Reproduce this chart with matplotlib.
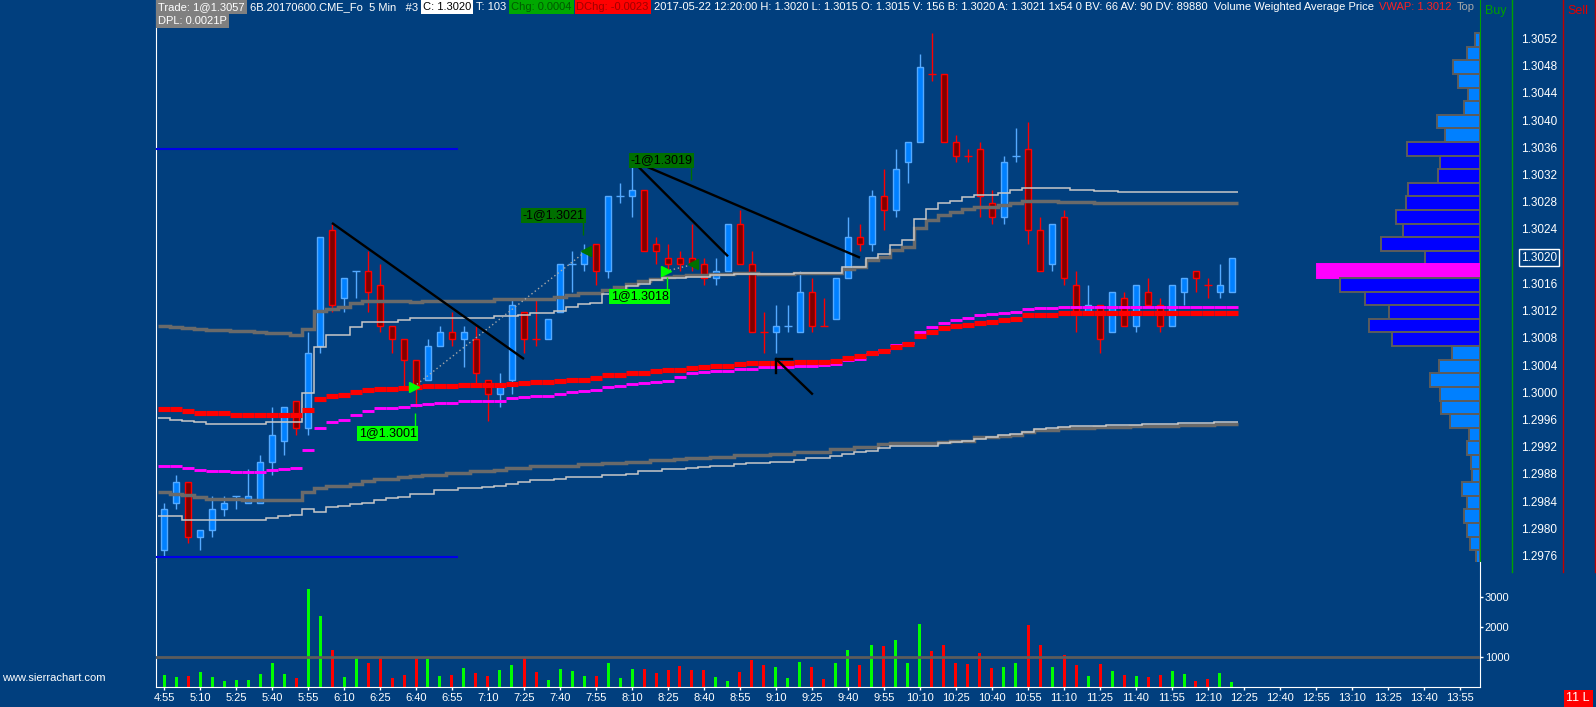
import numpy as np
import matplotlib
matplotlib.use("Agg")
import matplotlib.pyplot as plt
from matplotlib.lines import Line2D
import matplotlib.transforms as mtransforms

plt.rcParams['font.family'] = ['Liberation Sans', 'DejaVu Sans']

# ---- 5 min bars, 6B (British pound futures), 4:55 .. 12:20 ----
OPEN = [1.2977, 1.2984, 1.2987, 1.2979, 1.2980, 1.2983, 1.2985, 1.2984, 1.2984, 1.2990,
        1.2993, 1.2999, 1.2995, 1.3007, 1.3024, 1.3014, 1.3018, 1.3018, 1.3016, 1.3010,
        1.3008, 1.3005, 1.3002, 1.3007, 1.3009, 1.3008, 1.3008, 1.3002, 1.3000, 1.3002,
        1.3012, 1.3008, 1.3008, 1.3012, 1.3019, 1.3019, 1.3022, 1.3018, 1.3029, 1.3029,
        1.3030, 1.3022, 1.3020, 1.3020, 1.3020, 1.3019, 1.3017, 1.3018, 1.3025, 1.3019,
        1.3009, 1.3009, 1.3010, 1.3009, 1.3015, 1.3010, 1.3011, 1.3017, 1.3023, 1.3022,
        1.3029, 1.3027, 1.3034, 1.3037, 1.3047, 1.3047, 1.3037, 1.3035, 1.3036, 1.3028,
        1.3026, 1.3035, 1.3036, 1.3024, 1.3019, 1.3026, 1.3016, 1.3012, 1.3013, 1.3009,
        1.3014, 1.3010, 1.3015, 1.3013, 1.3010, 1.3015, 1.3018, 1.3016, 1.3015, 1.3015]
HIGH = [1.2984, 1.2988, 1.2987, 1.2980, 1.2985, 1.2985, 1.2985, 1.2989, 1.2991, 1.2998,
        1.2998, 1.2999, 1.3009, 1.3023, 1.3025, 1.3017, 1.3018, 1.3021, 1.3019, 1.3010,
        1.3008, 1.3005, 1.3008, 1.3010, 1.3012, 1.3010, 1.3010, 1.3002, 1.3003, 1.3014,
        1.3012, 1.3014, 1.3011, 1.3019, 1.3021, 1.3022, 1.3022, 1.3029, 1.3031, 1.3034,
        1.3030, 1.3023, 1.3022, 1.3021, 1.3025, 1.3020, 1.3020, 1.3025, 1.3027, 1.3021,
        1.3012, 1.3013, 1.3013, 1.3018, 1.3017, 1.3014, 1.3017, 1.3026, 1.3025, 1.3030,
        1.3033, 1.3036, 1.3037, 1.3050, 1.3053, 1.3047, 1.3038, 1.3036, 1.3037, 1.3030,
        1.3035, 1.3039, 1.3040, 1.3026, 1.3025, 1.3027, 1.3018, 1.3016, 1.3013, 1.3015,
        1.3015, 1.3016, 1.3017, 1.3014, 1.3016, 1.3017, 1.3018, 1.3017, 1.3019, 1.3020]
LOW = [1.2976, 1.2983, 1.2978, 1.2977, 1.2979, 1.2982, 1.2983, 1.2984, 1.2984, 1.2988,
       1.2991, 1.2994, 1.2994, 1.3006, 1.3012, 1.3012, 1.3014, 1.3012, 1.3009, 1.3006,
       1.3001, 1.2998, 1.3002, 1.3007, 1.3007, 1.3004, 1.3001, 1.2996, 1.2998, 1.3000,
       1.3006, 1.3007, 1.3008, 1.3012, 1.3015, 1.3018, 1.3016, 1.3017, 1.3028, 1.3026,
       1.3021, 1.3019, 1.3018, 1.3018, 1.3018, 1.3016, 1.3016, 1.3018, 1.3019, 1.3009,
       1.3006, 1.3006, 1.3009, 1.3009, 1.3009, 1.3010, 1.3011, 1.3017, 1.3021, 1.3021,
       1.3024, 1.3026, 1.3031, 1.3037, 1.3046, 1.3037, 1.3034, 1.3034, 1.3026, 1.3025,
       1.3025, 1.3034, 1.3022, 1.3018, 1.3018, 1.3016, 1.3009, 1.3012, 1.3006, 1.3009,
       1.3010, 1.3009, 1.3013, 1.3009, 1.3010, 1.3013, 1.3015, 1.3014, 1.3014, 1.3015]
CLOSE = [1.2983, 1.2987, 1.2979, 1.2980, 1.2983, 1.2984, 1.2985, 1.2985, 1.2990, 1.2994,
         1.2998, 1.2995, 1.3006, 1.3023, 1.3013, 1.3017, 1.3018, 1.3015, 1.3010, 1.3008,
         1.3005, 1.3001, 1.3007, 1.3009, 1.3008, 1.3009, 1.3003, 1.3000, 1.3001, 1.3013,
         1.3008, 1.3008, 1.3011, 1.3019, 1.3019, 1.3021, 1.3018, 1.3029, 1.3029, 1.3030,
         1.3021, 1.3021, 1.3019, 1.3019, 1.3019, 1.3017, 1.3018, 1.3025, 1.3019, 1.3009,
         1.3009, 1.3010, 1.3010, 1.3015, 1.3010, 1.3010, 1.3017, 1.3023, 1.3022, 1.3029,
         1.3027, 1.3033, 1.3037, 1.3048, 1.3047, 1.3037, 1.3035, 1.3035, 1.3029, 1.3026,
         1.3034, 1.3035, 1.3024, 1.3018, 1.3025, 1.3017, 1.3012, 1.3013, 1.3008, 1.3015,
         1.3010, 1.3016, 1.3013, 1.3010, 1.3016, 1.3017, 1.3017, 1.3016, 1.3016, 1.3020]
DOJI_DOWN = [31, 50, 55, 64, 67, 87]   # open == close bars drawn as down bars

VOLUME = [402, 337, 370, 500, 337, 207, 239, 239, 435, 793,
          435, 304, 3272, 2359, 1250, 337, 957, 793, 957, 304,
          402, 957, 924, 370, 402, 630, 467, 370, 565, 728,
          957, 500, 239, 598, 533, 370, 370, 793, 304, 598,
          598, 467, 565, 696, 565, 565, 337, 207, 500, 891,
          728, 663, 304, 826, 663, 272, 793, 1217, 728, 1413,
          1380, 1576, 793, 2098, 1185, 1413, 793, 761, 1120, 630,
          663, 793, 2065, 1413, 663, 1054, 728, 370, 761, 533,
          402, 370, 337, 402, 533, 435, 207, 272, 467, 156]

# VWAP study (red) with its bands (gray) and second VWAP (magenta) with bands (white)
VWAP = [1.29977, 1.29977, 1.29974, 1.29972, 1.29971, 1.29971, 1.29969, 1.29969, 1.29968, 1.29968,
        1.29968, 1.29968, 1.29976, 1.29992, 1.29997, 1.29998, 1.30003, 1.30005, 1.30007, 1.30007,
        1.30009, 1.30010, 1.30011, 1.30011, 1.30011, 1.30013, 1.30013, 1.30013, 1.30013, 1.30014,
        1.30016, 1.30017, 1.30017, 1.30018, 1.30020, 1.30020, 1.30023, 1.30027, 1.30027, 1.30030,
        1.30030, 1.30033, 1.30035, 1.30035, 1.30038, 1.30039, 1.30041, 1.30041, 1.30043, 1.30045,
        1.30045, 1.30045, 1.30045, 1.30047, 1.30047, 1.30047, 1.30048, 1.30052, 1.30055, 1.30060,
        1.30063, 1.30069, 1.30073, 1.30085, 1.30091, 1.30097, 1.30100, 1.30101, 1.30104, 1.30106,
        1.30109, 1.30110, 1.30115, 1.30115, 1.30116, 1.30118, 1.30118, 1.30118, 1.30118, 1.30118,
        1.30118, 1.30118, 1.30118, 1.30118, 1.30118, 1.30118, 1.30118, 1.30118, 1.30118, 1.30118]
VWAP2 = [1.29893, 1.29893, 1.29891, 1.29888, 1.29887, 1.29887, 1.29885, 1.29885, 1.29885, 1.29888,
         1.29890, 1.29891, 1.29917, 1.29950, 1.29958, 1.29962, 1.29969, 1.29975, 1.29979, 1.29979,
         1.29981, 1.29983, 1.29985, 1.29987, 1.29987, 1.29989, 1.29989, 1.29989, 1.29989, 1.29993,
         1.29995, 1.29996, 1.29996, 1.30000, 1.30003, 1.30004, 1.30005, 1.30010, 1.30011, 1.30015,
         1.30016, 1.30017, 1.30018, 1.30024, 1.30031, 1.30032, 1.30034, 1.30034, 1.30036, 1.30037,
         1.30039, 1.30039, 1.30039, 1.30041, 1.30041, 1.30042, 1.30044, 1.30049, 1.30051, 1.30058,
         1.30064, 1.30072, 1.30075, 1.30091, 1.30098, 1.30104, 1.30109, 1.30112, 1.30115, 1.30117,
         1.30118, 1.30120, 1.30124, 1.30126, 1.30126, 1.30128, 1.30128, 1.30128, 1.30128, 1.30128,
         1.30128, 1.30128, 1.30128, 1.30128, 1.30128, 1.30128, 1.30128, 1.30128, 1.30128, 1.30128]
BAND_UP = [1.30100, 1.30098, 1.30097, 1.30095, 1.30094, 1.30094, 1.30092, 1.30092, 1.30091, 1.30089,
           1.30089, 1.30087, 1.30095, 1.30121, 1.30125, 1.30128, 1.30133, 1.30137, 1.30137, 1.30137,
           1.30137, 1.30135, 1.30137, 1.30137, 1.30137, 1.30137, 1.30137, 1.30137, 1.30139, 1.30139,
           1.30139, 1.30139, 1.30139, 1.30142, 1.30145, 1.30148, 1.30148, 1.30153, 1.30157, 1.30162,
           1.30166, 1.30168, 1.30171, 1.30173, 1.30175, 1.30175, 1.30176, 1.30176, 1.30177, 1.30177,
           1.30176, 1.30176, 1.30176, 1.30177, 1.30177, 1.30177, 1.30178, 1.30184, 1.30187, 1.30196,
           1.30201, 1.30212, 1.30216, 1.30243, 1.30255, 1.30263, 1.30267, 1.30271, 1.30274, 1.30274,
           1.30277, 1.30280, 1.30283, 1.30283, 1.30284, 1.30282, 1.30282, 1.30282, 1.30281, 1.30281,
           1.30281, 1.30281, 1.30281, 1.30280, 1.30280, 1.30280, 1.30280, 1.30280, 1.30280, 1.30280]
BAND_DN = [1.29855, 1.29853, 1.29851, 1.29848, 1.29845, 1.29845, 1.29845, 1.29844, 1.29844, 1.29844,
           1.29844, 1.29844, 1.29856, 1.29862, 1.29865, 1.29865, 1.29868, 1.29872, 1.29875, 1.29875,
           1.29877, 1.29879, 1.29881, 1.29881, 1.29883, 1.29883, 1.29886, 1.29886, 1.29888, 1.29891,
           1.29891, 1.29893, 1.29893, 1.29894, 1.29894, 1.29896, 1.29896, 1.29898, 1.29898, 1.29900,
           1.29900, 1.29902, 1.29902, 1.29904, 1.29905, 1.29905, 1.29907, 1.29907, 1.29910, 1.29910,
           1.29910, 1.29912, 1.29912, 1.29915, 1.29915, 1.29915, 1.29918, 1.29918, 1.29921, 1.29921,
           1.29926, 1.29928, 1.29928, 1.29927, 1.29927, 1.29929, 1.29931, 1.29931, 1.29936, 1.29936,
           1.29938, 1.29939, 1.29944, 1.29947, 1.29947, 1.29949, 1.29949, 1.29949, 1.29951, 1.29951,
           1.29951, 1.29953, 1.29953, 1.29953, 1.29953, 1.29954, 1.29954, 1.29954, 1.29955, 1.29955]
BAND2_UP = [1.29964, 1.29962, 1.29960, 1.29958, 1.29956, 1.29955, 1.29955, 1.29955, 1.29956, 1.29958,
            1.29958, 1.29958, 1.30001, 1.30069, 1.30086, 1.30086, 1.30098, 1.30106, 1.30106, 1.30106,
            1.30109, 1.30111, 1.30111, 1.30112, 1.30112, 1.30112, 1.30112, 1.30112, 1.30114, 1.30114,
            1.30116, 1.30119, 1.30119, 1.30122, 1.30128, 1.30132, 1.30133, 1.30147, 1.30152, 1.30158,
            1.30162, 1.30167, 1.30170, 1.30170, 1.30172, 1.30172, 1.30175, 1.30175, 1.30176, 1.30176,
            1.30176, 1.30176, 1.30176, 1.30178, 1.30178, 1.30178, 1.30178, 1.30186, 1.30186, 1.30199,
            1.30206, 1.30218, 1.30226, 1.30257, 1.30271, 1.30280, 1.30284, 1.30289, 1.30292, 1.30292,
            1.30295, 1.30299, 1.30302, 1.30302, 1.30302, 1.30302, 1.30300, 1.30300, 1.30298, 1.30298,
            1.30297, 1.30297, 1.30297, 1.30296, 1.30296, 1.30296, 1.30296, 1.30296, 1.30296, 1.30296]
BAND2_DN = [1.29820, 1.29820, 1.29815, 1.29815, 1.29814, 1.29814, 1.29814, 1.29814, 1.29815, 1.29818,
            1.29820, 1.29821, 1.29831, 1.29826, 1.29834, 1.29835, 1.29838, 1.29840, 1.29844, 1.29847,
            1.29848, 1.29852, 1.29853, 1.29858, 1.29858, 1.29862, 1.29862, 1.29863, 1.29865, 1.29868,
            1.29870, 1.29873, 1.29873, 1.29875, 1.29877, 1.29877, 1.29878, 1.29880, 1.29880, 1.29882,
            1.29887, 1.29887, 1.29889, 1.29889, 1.29891, 1.29892, 1.29894, 1.29894, 1.29896, 1.29898,
            1.29898, 1.29900, 1.29900, 1.29903, 1.29906, 1.29906, 1.29909, 1.29911, 1.29914, 1.29916,
            1.29920, 1.29923, 1.29923, 1.29923, 1.29923, 1.29927, 1.29929, 1.29931, 1.29934, 1.29937,
            1.29939, 1.29941, 1.29944, 1.29948, 1.29949, 1.29951, 1.29953, 1.29953, 1.29953, 1.29954,
            1.29954, 1.29954, 1.29956, 1.29956, 1.29956, 1.29957, 1.29957, 1.29957, 1.29959, 1.29959]

# volume profile (2-tick rows)
PROFILE_PRICE = [1.3052, 1.3050, 1.3048, 1.3046, 1.3044, 1.3042, 1.3040, 1.3038, 1.3036, 1.3034,
                 1.3032, 1.3030, 1.3028, 1.3026, 1.3024, 1.3022, 1.3020, 1.3018, 1.3016, 1.3014,
                 1.3012, 1.3010, 1.3008, 1.3006, 1.3004, 1.3002, 1.3000, 1.2998, 1.2996, 1.2994,
                 1.2992, 1.2990, 1.2988, 1.2986, 1.2984, 1.2982, 1.2980, 1.2978, 1.2976]
PROFILE_VOL = [5, 13, 27, 22, 12, 16, 43, 35, 73, 40,
               42, 72, 74, 84, 77, 99, 55, 163, 140, 115,
               91, 111, 88, 28, 41, 50, 40, 39, 30, 11,
               13, 9, 8, 18, 13, 16, 13, 10, 4]
POC = 1.3018
VALUE_AREA = (1.3008, 1.3036)

# key levels, trend lines, trades
LEVELS = [1.3036, 1.2976]
TRENDLINES = [((14.0, 30.0), (1.30251, 1.30051)),
              ((39.0, 47.0), (1.30343, 1.30202)),
              ((39.0, 58.0), (1.30343, 1.30200))]
BUYS = [(20.8, 1.3001, '1@1.3001', 1.29942), (41.8, 1.3018, '1@1.3018', 1.30143)]
SELLS = [(35.2, 1.3021, '-1@1.3021', 1.30262), (44.1, 1.3019, '-1@1.3019', 1.30343)]

TIME_LABELS = ['4:55', '5:10', '5:25', '5:40', '5:55', '6:10', '6:25', '6:40', '6:55', '7:10',
               '7:25', '7:40', '7:55', '8:10', '8:25', '8:40', '8:55', '9:10', '9:25', '9:40',
               '9:55', '10:10', '10:25', '10:40', '10:55', '11:10', '11:25', '11:40', '11:55',
               '12:10', '12:25', '12:40', '12:55', '13:10', '13:25', '13:40', '13:55']
PRICE_LABELS = ['1.3052', '1.3048', '1.3044', '1.3040', '1.3036', '1.3032', '1.3028', '1.3024',
                '1.3020', '1.3016', '1.3012', '1.3008', '1.3004', '1.3000', '1.2996', '1.2992',
                '1.2988', '1.2984', '1.2980', '1.2976']
LAST_PRICE = '1.3020'
VOL_LABELS = [1000, 2000, 3000]

# ---- layout (pixels) ----
W, H = 1596, 707
BG = '#013F7E'
X0, X1 = 156, 1480
BAR_PX = 12


def fx(x):
    return x / W


def fy(y):
    return 1 - y / H


fig = plt.figure(figsize=(W / 100, H / 100), dpi=100, facecolor=BG)
ax = fig.add_axes([fx(X0), fy(562), (X1 - X0) / W, 562 / H], facecolor=BG)
axv = fig.add_axes([fx(X0), fy(687), (X1 - X0) / W, (687 - 562) / H], facecolor=BG)
xlim = ((X0 - 164) / BAR_PX, (X1 - 164) / BAR_PX)

o, hi, lo, c = (np.array(a) for a in (OPEN, HIGH, LOW, CLOSE))
n = len(o)
idx = np.arange(n)
doji = np.isclose(o, c)
up = (c > o) & ~doji | (doji & ~np.isin(idx, DOJI_DOWN))

UP_FILL, UP_EDGE = '#0080FF', '#55AAFF'
DN_FILL, DN_EDGE = '#800000', '#FF0000'

# candles
ax.vlines(idx[up], lo[up], hi[up], color=UP_EDGE, lw=1, zorder=2)
ax.vlines(idx[~up], lo[~up], hi[~up], color=DN_EDGE, lw=1, zorder=2)
m = ~doji & up
ax.bar(idx[m], (c - o)[m], bottom=o[m], width=0.48, color=UP_FILL,
       edgecolor=UP_EDGE, lw=1, zorder=3)
m = ~doji & ~up
ax.bar(idx[m], (o - c)[m], bottom=c[m], width=0.48, color=DN_FILL,
       edgecolor=DN_EDGE, lw=1, zorder=3)
m = doji & up
ax.hlines(o[m], idx[m] - 0.3, idx[m] + 0.3, color=UP_EDGE, lw=1, zorder=3)
m = doji & ~up
ax.hlines(o[m], idx[m] - 0.3, idx[m] + 0.3, color=DN_EDGE, lw=1, zorder=3)

# studies
edges = np.arange(n + 1) - 0.5
ax.stairs(BAND_UP, edges, baseline=None, color='#6A6A6A', lw=2.5, zorder=4)
ax.stairs(BAND_DN, edges, baseline=None, color='#6A6A6A', lw=2.5, zorder=4)
ax.stairs(BAND2_UP, edges, baseline=None, color='#C8C8C8', lw=1.1, zorder=5)
ax.stairs(BAND2_DN, edges, baseline=None, color='#C8C8C8', lw=1.1, zorder=5)
ax.hlines(VWAP2, idx - 0.5, idx + 0.5, color='#FF00FF', lw=2.1, capstyle='butt', zorder=6)
ax.hlines(VWAP, idx - 0.5, idx + 0.5, color='#FF0000', lw=3.7, capstyle='butt', zorder=7)

ax.hlines(LEVELS, xlim[0], 24.5, color='#0000E8', lw=1.5, zorder=4)

# drawings
for xs, ys in TRENDLINES:
    ax.plot(xs, ys, color='black', lw=1.7, solid_capstyle='butt', zorder=9)
ax.plot([51.0, 54.0], [1.30051, 1.30000], color='black', lw=1.7, zorder=9)
ax.plot([52.3, 51.0, 51.0], [1.30051, 1.30051, 1.30030], color='black', lw=1.7, zorder=9)

# trades
ax.plot([BUYS[0][0], SELLS[0][0]], [BUYS[0][1], SELLS[0][1]], ls=(0, (1, 2)), color='#A8A8A8', lw=1, zorder=8)
ax.plot([BUYS[1][0], SELLS[1][0]], [BUYS[1][1], SELLS[1][1]], ls=(0, (1, 2)), color='#A8A8A8', lw=1, zorder=8)
for trades, col, mk in ((BUYS, '#00FF00', '>'), (SELLS, '#007000', '<')):
    for bx, price, label, ly in trades:
        ax.plot(bx, price, marker=mk, ms=7, color=col, mec=col, zorder=10)
        xr = round(bx)
        above = ly > price
        tick_from = ly - 0.00010 if above else ly + 0.00010
        tick_to = tick_from - 0.00019 if above else tick_from + 0.00019
        ax.vlines(xr - 0.05, min(tick_from, tick_to), max(tick_from, tick_to), color=col, lw=1, zorder=10)
        ax.text(xr + 0.05, ly, label, ha='right', va='center', fontsize=9, color='black', zorder=11,
                bbox=dict(boxstyle='square,pad=0.12', fc=col, ec='none'))

# volume profile at right edge
pp = np.array(PROFILE_PRICE)
pv = np.array(PROFILE_VOL, dtype=float)
widths = pv / pv.max() * 163 / BAR_PX
is_poc = np.isclose(pp, POC)
in_va = (pp >= VALUE_AREA[0] - 1e-7) & (pp <= VALUE_AREA[1] + 1e-7)
fills = np.where(is_poc, '#FF00FF', np.where(in_va, '#0000FF', '#0080FF'))
outl = np.where(is_poc, '#FF00FF', '#5C5C5C')
ax.barh(pp, widths, height=0.0002, left=xlim[1] - widths, color=fills,
        edgecolor=outl, lw=1.4, zorder=3)

# volume panel
axv.bar(idx, VOLUME, width=0.25, color=np.where(up, '#00FF00', '#FF0000'), zorder=2)
axv.axhline(1000, color='#5C5C5C', lw=2, zorder=3)

ax.set_xlim(*xlim)
axv.set_xlim(*xlim)
ax.set_ylim(1.297526, 1.305788)
axv.set_ylim(0, 4167)

ax.set_xticks([])
ax.set_yticks([])
for s in ('top', 'bottom'):
    ax.spines[s].set_visible(False)
ax.spines['left'].set_color('white')
ax.spines['right'].set_color('#00A000')
axv.spines['top'].set_visible(False)
for s in ('left', 'right', 'bottom'):
    axv.spines[s].set_color('white')

axv.set_xticks(np.arange(0, 3 * len(TIME_LABELS), 3))
axv.set_xticklabels(TIME_LABELS)
axv.tick_params(axis='x', colors='white', direction='out', length=2.5, width=1,
                labelsize=8, pad=1.5)
axv.yaxis.set_ticks_position('right')
axv.set_yticks(VOL_LABELS)
axv.set_yticklabels([str(v) for v in VOL_LABELS])
axv.tick_params(axis='y', colors='white', length=2.5, width=1, labelsize=8, pad=1)

# price scale on the right
trans = mtransforms.blended_transform_factory(ax.transAxes, ax.transData)
xl = (1521 - X0) / (X1 - X0)
for lab in PRICE_LABELS:
    kw = {}
    if lab == LAST_PRICE:
        kw['bbox'] = dict(boxstyle='square,pad=0.2', fc=BG, ec='white', lw=1)
    ax.text(xl, float(lab), lab, transform=trans, ha='left', va='center',
            fontsize=8.5, color='white', **kw)

# right-hand columns
for x, col in ((1512, '#00A000'), (1563, '#C00000'), (1595, '#C00000')):
    fig.add_artist(Line2D([fx(x), fx(x)], [fy(0), fy(572)], color=col, lw=1))
fig.text(fx(1496), fy(11), 'Buy', color='#00A000', fontsize=9, ha='center', va='center')
fig.text(fx(1578), fy(11), 'Sell', color='#E00000', fontsize=9, ha='center', va='center')

# header
renderer = fig.canvas.get_renderer()


def header_row(items, x, y, size=8):
    for text, fg, bg in items:
        kw = {}
        if bg:
            kw['bbox'] = dict(boxstyle='square,pad=0.18', fc=bg, ec='none')
        t = fig.text(fx(x), fy(y), text, color=fg, fontsize=size, ha='left', va='center', **kw)
        x += t.get_window_extent(renderer).width + 5


header_row([('Trade: 1@1.3057', 'white', '#808080'),
            ('6B.20170600.CME_Fo  5 Min   #3', 'white', None),
            ('C: 1.3020', 'black', 'white'),
            ('T: 103', 'white', None),
            ('Chg: 0.0004', '#005A00', '#00A800'),
            ('DChg: -0.0023', '#A00000', '#FF0000'),
            ('2017-05-22 12:20:00 H: 1.3020 L: 1.3015 O: 1.3015 V: 156 B: 1.3020 A: 1.3021 '
             '1x54 0 BV: 66 AV: 90 DV: 89880  Volume Weighted Average Price', 'white', None),
            ('VWAP: 1.3012', '#FF2020', None),
            ('Top', '#A8A8A8', None)], 158, 7)
header_row([('DPL: 0.0021P', 'white', '#808080')], 158, 21)

fig.text(fx(2), fy(678), 'www.sierrachart.com', color='white', fontsize=8, ha='left', va='center')
fig.text(fx(1590), fy(698), '11 L', color='white', fontsize=9, ha='right', va='center',
         bbox=dict(boxstyle='square,pad=0.2', fc='#FF0000', ec='none'))

fig.savefig('out.png', dpi=100, facecolor=BG)
